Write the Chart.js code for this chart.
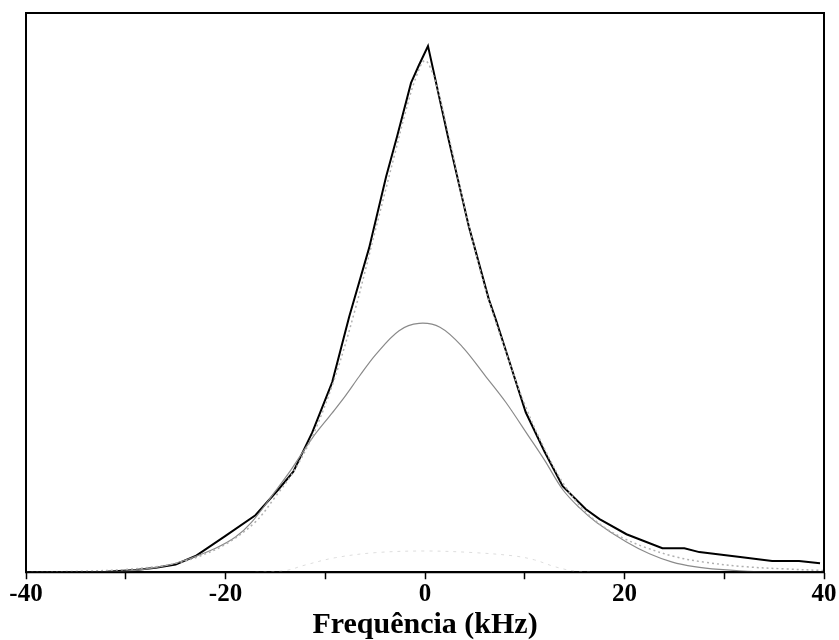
<!DOCTYPE html>
<html>
<head>
<meta charset="utf-8">
<script src="https://cdn.jsdelivr.net/npm/chart.js@4/dist/chart.umd.min.js"></script>
<style>
  body { margin: 0; background: #fff; }
  canvas { display: block; }
</style>
</head>
<body>
<canvas id="chart" width="839" height="640"></canvas>
<script>
// measured spectrum (black)
const dataFreq = [-40, -36, -32, -29, -27, -25, -23, -20, -17, -14.7, -13.2, -11.3, -9.3, -7.6, -5.6, -3.9, -2.8, -1.4, -0.6, 0.3, 2.3, 4.4, 6.4, 7.1, 8.4, 10.1, 12, 13.8, 16.1, 17.5, 20.2, 23.8, 26, 27.5, 31.8, 34.8, 37.5, 39.6];
const dataIntensity = [0, 0, 0.1, 0.4, 0.8, 1.4, 2.9, 6.5, 10.2, 14.8, 18, 25, 34, 45.7, 58, 70.7, 77.9, 87.5, 90.7, 94.1, 77.9, 61.8, 48.8, 45.2, 38, 28.6, 21.5, 15.4, 11.3, 9.5, 6.8, 4.3, 4.3, 3.6, 2.7, 2.0, 2.0, 1.6];

// fitted curve (light gray dotted)
const fitFreq = [-40, -34, -30, -27, -25, -23, -20, -17, -15, -13, -11, -9, -7, -5, -3, -2, -1, 0, 1, 2, 3, 4, 6, 8, 10, 12, 14, 16, 18, 20, 22, 25, 28, 32, 36, 40];
const fitIntensity = [0, 0.2, 0.5, 1.0, 1.6, 2.6, 5.0, 9.0, 13.5, 18.5, 25.5, 35, 47, 61, 75, 82, 88, 91.5, 88, 81, 73, 65, 51, 40, 30, 22, 15.5, 11, 8, 6, 4.5, 2.8, 1.8, 1.0, 0.6, 0.3];

// broad component (gray)
const broadFreq = [-40, -34, -30, -26, -24, -21, -19, -17.4, -15, -13.4, -11.3, -9.3, -8, -6.6, -4.9, -2.6, -0.6, 1.5, 3.7, 6.1, 8.1, 10.4, 12, 13.8, 15.5, 17.2, 20.2, 22.5, 24.8, 27, 29.5, 33, 40];
const broadIntensity = [0, 0, 0.2, 1.2, 2.2, 4.3, 6.3, 8.9, 14.5, 18.4, 24, 28.5, 31.5, 35, 39, 43.2, 44.5, 43.8, 40.4, 35, 30.4, 24.3, 20, 14.8, 11.5, 8.9, 5.4, 3.3, 1.8, 1.0, 0.5, 0.1, 0];

// small component near the baseline
const smallFreq = [-17, -14, -12, -9, -5, 0, 5, 9, 11, 13, 15, 17];
const smallIntensity = [0, 0.3, 1.3, 2.6, 3.5, 3.8, 3.5, 2.9, 2.2, 1.0, 0.2, 0];

const xTicks = [-40, -20, 0, 20, 40];

function toPoints(xs, ys) {
  return xs.map((x, i) => ({ x: x, y: ys[i] }));
}

const frameBox = {
  id: "frameBox",
  afterDraw(chart) {
    const a = chart.chartArea;
    const ctx = chart.ctx;
    ctx.save();
    ctx.strokeStyle = "#000";
    ctx.lineWidth = 2;
    ctx.strokeRect(a.left, a.top, a.right - a.left, a.bottom - a.top);
    ctx.restore();
  }
};

const serif = "'Liberation Serif', 'Times New Roman', serif";

new Chart(document.getElementById("chart"), {
  type: "line",
  data: {
    datasets: [
      {
        label: "Ajuste",
        data: toPoints(fitFreq, fitIntensity),
        borderColor: "#b0b0b0",
        borderWidth: 1.5,
        borderDash: [2, 3],
        tension: 0.35,
        pointRadius: 0
      },
      {
        label: "Componente larga",
        data: toPoints(broadFreq, broadIntensity),
        borderColor: "#8a8a8a",
        borderWidth: 1.2,
        tension: 0.35,
        pointRadius: 0
      },
      {
        label: "Componente pequena",
        data: toPoints(smallFreq, smallIntensity),
        borderColor: "#dddddd",
        borderWidth: 1,
        borderDash: [3, 5],
        tension: 0.35,
        pointRadius: 0
      },
      {
        label: "Espectro",
        data: toPoints(dataFreq, dataIntensity),
        borderColor: "#000",
        borderWidth: 2,
        tension: 0,
        pointRadius: 0
      }
    ]
  },
  options: {
    responsive: false,
    animation: false,
    layout: { padding: { left: 26, right: 15, top: 13, bottom: 0 } },
    plugins: {
      legend: { display: false },
      tooltip: { enabled: false }
    },
    scales: {
      x: {
        type: "linear",
        min: -40,
        max: 40,
        border: { display: true, color: "#000", width: 2 },
        grid: {
          drawOnChartArea: false,
          drawTicks: true,
          tickLength: 7,
          tickWidth: 1.5,
          tickColor: "#000"
        },
        ticks: {
          stepSize: 10,
          autoSkip: false,
          maxRotation: 0,
          padding: 1,
          color: "#000",
          font: { family: serif, size: 25, weight: "bold", lineHeight: 1.15 },
          callback: v => (xTicks.includes(v) ? String(v) : "")
        },
        title: {
          display: true,
          text: "Frequência (kHz)",
          color: "#000",
          padding: { top: 0, bottom: 0 },
          font: { family: serif, size: 30, weight: "bold", lineHeight: 1 }
        }
      },
      y: {
        display: false,
        min: 0,
        max: 100
      }
    }
  },
  plugins: [frameBox]
});
</script>
</body>
</html>
